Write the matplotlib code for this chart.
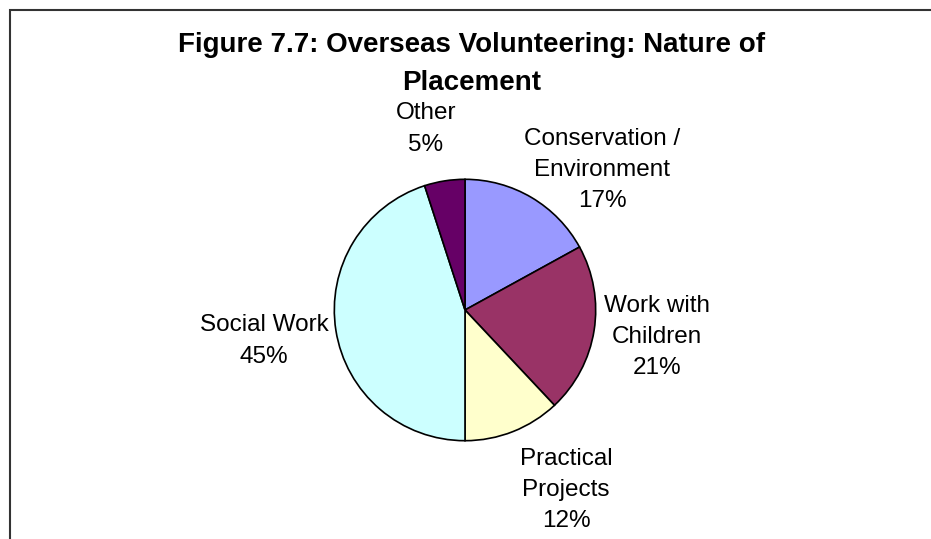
import matplotlib.pyplot as plt
from matplotlib.patches import Rectangle

# -------------------------------
# DATA
# -------------------------------
categories = ["Conservation /\nEnvironment", "Work with\nChildren", "Practical\nProjects",
              "Social Work", "Other"]
shares = [17, 21, 12, 45, 5]
colors = ["#9999FF", "#993366", "#FFFFCC", "#CCFFFF", "#660066"]

# label centres in pixels (x, y from top)
label_pos = [(602, 170), (657, 337), (566, 490), (264, 341), (426, 129)]

W, H = 931, 539
plt.rcParams['font.family'] = ['Liberation Sans', 'DejaVu Sans']

fig = plt.figure(figsize=(W / 100, H / 100), dpi=100)
fig.patch.set_facecolor("white")

# outer frame (only left and top edges visible)
fig.add_artist(Rectangle((10 / W, -0.1), 1.2, 1.1 - 10 / H,
                         transform=fig.transFigure, fill=False,
                         edgecolor="#333333", linewidth=1.5))

# pie
cx, cy, r = 465, 310, 132
ax = fig.add_axes([(cx - r) / W, (H - cy - r) / H, 2 * r / W, 2 * r / H])
ax.pie(shares, colors=colors, startangle=90, counterclock=False,
       wedgeprops=dict(edgecolor="black", linewidth=1.2))
ax.set_xlim(-1.01, 1.01)
ax.set_ylim(-1.01, 1.01)
ax.axis("off")

# labels
for name, val, (px, py) in zip(categories, shares, label_pos):
    fig.text(px / W, 1 - py / H, f"{name}\n{val}%", ha="center", va="center",
             multialignment="center", fontsize=17.5, linespacing=1.55)

# title
fig.text(472 / W, 1 - 64 / H, "Figure 7.7: Overseas Volunteering: Nature of\nPlacement",
         ha="center", va="center", multialignment="center",
         fontsize=20, fontweight="bold", linespacing=1.55)

plt.savefig("out.png", dpi=100)
plt.close()
